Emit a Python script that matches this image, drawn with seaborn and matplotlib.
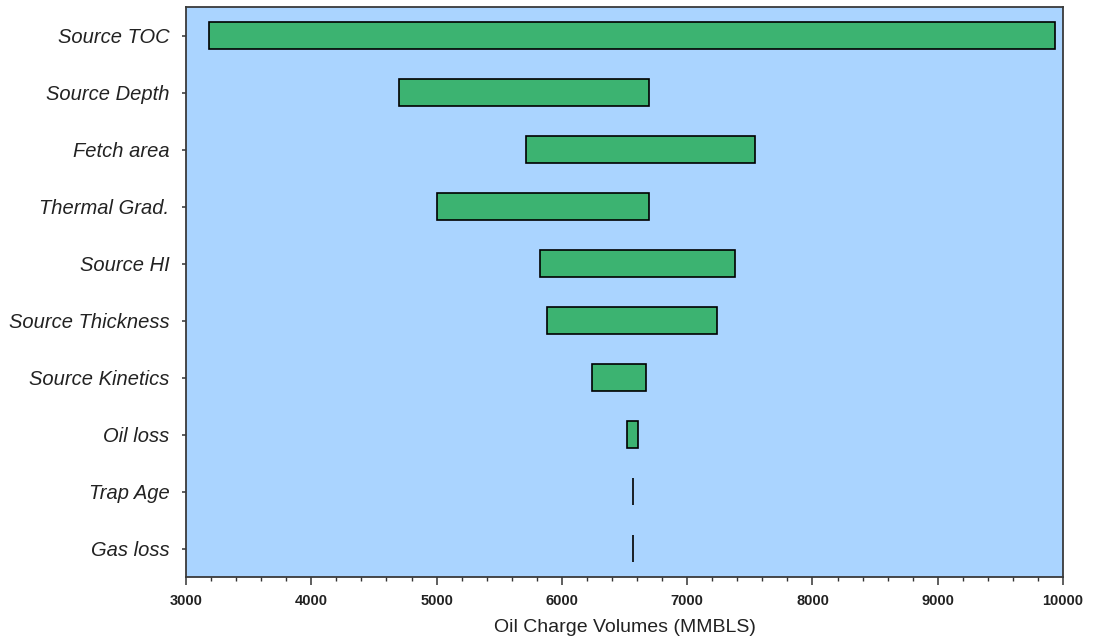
import matplotlib
matplotlib.use("Agg")
import matplotlib.pyplot as plt
from matplotlib.ticker import MultipleLocator
import numpy as np
import pandas as pd
import seaborn as sns

# Tornado chart: low/high oil charge volume for each uncertain input
factors = ["Source TOC", "Source Depth", "Fetch area", "Thermal Grad.", "Source HI",
           "Source Thickness", "Source Kinetics", "Oil loss", "Trap Age", "Gas loss"]
low_values = [3180, 4700, 5715, 5005, 5825, 5885, 6240, 6520, 6570, 6570]
high_values = [9935, 6695, 7540, 6695, 7380, 7235, 6670, 6610, 6570, 6570]

x_ticks = [3000, 4000, 5000, 6000, 7000, 8000, 9000, 10000]
x_label = "Oil Charge Volumes (MMBLS)"

sns.set_style("white")
plt.rcParams["font.family"] = ["Liberation Sans", "DejaVu Sans"]

df = pd.DataFrame({
    "factor": factors,
    "low": low_values,
    "span": np.array(high_values) - np.array(low_values),
})

fig = plt.figure(figsize=(10.93, 6.43), dpi=100)
ax = fig.add_axes([0.1702, 0.1026, 0.8024, 0.8865])
ax.set_facecolor("#AAD4FF")

sns.barplot(data=df, x="span", y="factor", order=factors, orient="h",
            color="#3CB371", saturation=1, width=0.48, errorbar=None,
            edgecolor="black", linewidth=1.2, ax=ax)

# each bar starts at its low value
for patch, lo in zip(ax.patches, df["low"]):
    patch.set_x(lo)

ax.set_xlim(3000, 10000)
ax.set_ylim(9.5, -0.5)
ax.set_xticks(x_ticks)
ax.set_xticklabels([str(t) for t in x_ticks], fontsize=10.5, fontweight="bold", color="#222222")
ax.xaxis.set_minor_locator(MultipleLocator(200))
ax.set_yticks(range(len(factors)))
ax.set_yticklabels(factors, fontsize=14.5, fontstyle="italic", color="#222222")

ax.set_xlabel(x_label, fontsize=14, color="#222222", labelpad=8)
ax.set_ylabel("")

ax.tick_params(axis="x", which="major", direction="out", length=6, width=1.1,
               color="#333333", pad=6, bottom=True)
ax.tick_params(axis="x", which="minor", direction="out", length=3, width=1.0,
               color="#333333", bottom=True)
ax.tick_params(axis="y", which="major", direction="out", length=3, width=1.1,
               color="#333333", pad=9, left=True)

for spine in ax.spines.values():
    spine.set_visible(True)
    spine.set_color("#3a3a3a")
    spine.set_linewidth(1.3)

fig.savefig("out.png", dpi=100, facecolor="white")
